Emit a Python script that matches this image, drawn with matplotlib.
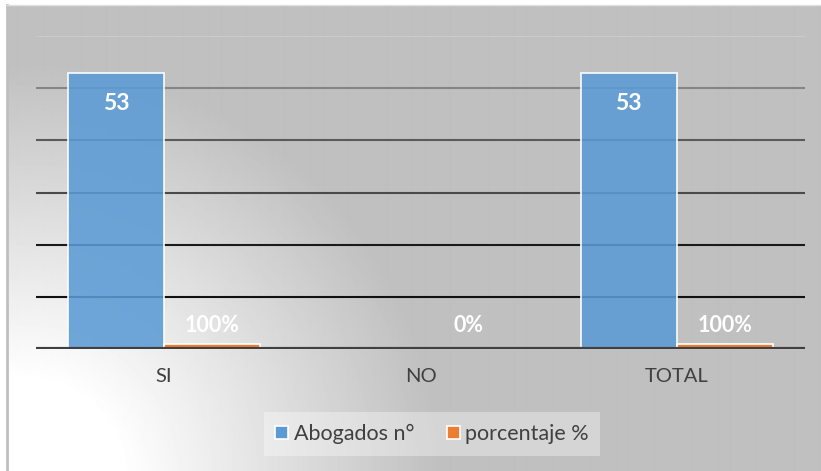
"""
Abogados chart: bars per answer with count and percentage.
"""
import numpy as np
import matplotlib.pyplot as plt
from matplotlib.patches import Patch

categories = ['SI', 'NO', 'TOTAL']
abogados = [53, 0, 53]
porcentaje = [1, 0, 1]
porcentaje_labels = ['100%', '0%', '100%']
y_ticks = [10, 20, 30, 40, 50, 60]

BLUE = '#5b9bd5'
ORANGE = '#ed7d31'
TEXT = '#404040'

plt.rcParams['font.family'] = ['Lato', 'DejaVu Sans']

W, H = 821, 471
fig = plt.figure(figsize=(W / 100, H / 100), dpi=100)

# background frame with radial grey gradient from the lower-left corner
bg = fig.add_axes([7 / W, 0, (W - 7) / W, (H - 5) / H])
yy, xx = np.mgrid[0:H - 5, 0:W - 7]
r = np.hypot(xx - 15, yy - 475)
t = np.clip((r - 100) / 320, 0, 1)
level = 1 - 0.25 * t
bg.imshow(level, cmap='gray', vmin=0, vmax=1, aspect='auto',
          extent=(0, 1, 0, 1), origin='upper', interpolation='bilinear')
bg.set_xlim(0, 1)
bg.set_ylim(0, 1)
bg.set_xticks([])
bg.set_yticks([])
for side in ('right', 'bottom'):
    bg.spines[side].set_visible(False)
bg.spines['left'].set_color('#bfbfbf')
bg.spines['left'].set_linewidth(2)
bg.spines['top'].set_color('#e0e0e0')
bg.spines['top'].set_linewidth(1)

ax = fig.add_axes([36 / W, (H - 349) / H, (805 - 36) / W, (349 - 36) / H])
ax.set_facecolor('none')
ax.set_ylim(0, 60)
ax.set_xlim(-0.5, len(categories) - 0.5)

# gridlines get darker towards the bottom
grid_colors = ['#111111', '#1a1a1a', '#4a4a4a', '#5a5a5a', '#858585', '#cacaca']
for val, col in zip(y_ticks, grid_colors):
    ax.axhline(val, color=col, lw=1.5, zorder=0.5)
ax.axhline(0, color='#404040', lw=3, zorder=3)

x = np.arange(len(categories))
w = 0.375
b1 = ax.bar(x - w / 2, abogados, w, color=BLUE, alpha=0.88,
            edgecolor='white', linewidth=1.3, zorder=2)
b2 = ax.bar(x + w / 2, porcentaje, w, color=ORANGE,
            edgecolor='white', linewidth=1.2, zorder=2)

for rect, v in zip(b1, abogados):
    if v:
        ax.annotate(str(v), (rect.get_x() + rect.get_width() / 2, v),
                    xytext=(0, -22), textcoords='offset points',
                    ha='center', va='center', color='white',
                    fontsize=16.5, fontweight='bold', zorder=5)
for rect, lab in zip(b2, porcentaje_labels):
    ax.annotate(lab, (rect.get_x() + rect.get_width() / 2, 0),
                xytext=(0, 17), textcoords='offset points',
                ha='center', va='center', color='white',
                fontsize=15.5, fontweight='bold', zorder=5)

ax.set_yticks([])
ax.set_xticks(x, categories)
ax.tick_params(axis='x', length=0, pad=14, labelsize=14.5, labelcolor=TEXT)
for s in ax.spines.values():
    s.set_visible(False)

handles = [Patch(facecolor=BLUE, edgecolor='white', linewidth=1.2),
           Patch(facecolor=ORANGE, edgecolor='white', linewidth=1.2)]
leg = fig.legend(handles, ['Abogados n°', 'porcentaje %'], loc='center',
                 bbox_to_anchor=(432 / W, 1 - 434 / H), ncol=2,
                 frameon=True, fancybox=False, fontsize=15.5,
                 handlelength=0.6, handleheight=0.6, handletextpad=0.25,
                 columnspacing=1.5, borderpad=0.55)
leg.get_frame().set_facecolor('#ffffff')
leg.get_frame().set_alpha(0.35)
leg.get_frame().set_edgecolor('none')
for txt in leg.get_texts():
    txt.set_color(TEXT)

fig.savefig('out.png', dpi=100)
